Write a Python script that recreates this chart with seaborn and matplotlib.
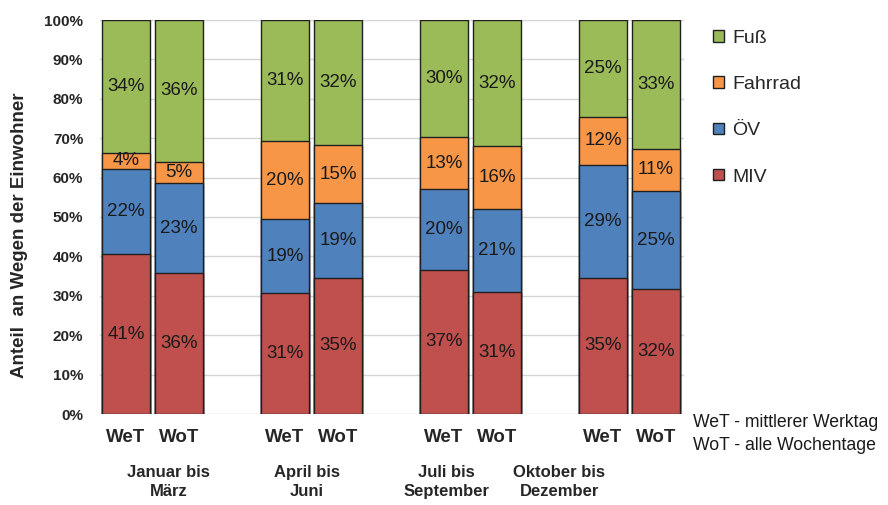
import matplotlib
matplotlib.use("Agg")
import matplotlib.pyplot as plt
from matplotlib.patches import Patch
from matplotlib.transforms import blended_transform_factory
import numpy as np
import pandas as pd
import seaborn as sns

# Quarters and day types (WeT = mittlerer Werktag, WoT = alle Wochentage)
periods = ["Januar bis\nMärz", "April bis\nJuni", "Juli bis\nSeptember", "Oktober bis\nDezember"]
day_types = ["WeT", "WoT"]

# Modal split in % per bar (WeT/WoT for each quarter), stacked bottom to top
modes = ["MIV", "ÖV", "Fahrrad", "Fuß"]
miv = [40.6, 35.7, 30.6, 34.6, 36.6, 31.0, 34.6, 31.6]
oev = [21.7, 23.0, 18.9, 18.9, 20.4, 21.0, 28.7, 25.0]
fahrrad = [3.9, 5.3, 19.7, 14.7, 13.3, 15.9, 12.1, 10.7]
fuss = [33.8, 36.0, 30.8, 31.8, 29.7, 32.1, 24.6, 32.7]

mode_colors = {"MIV": "#C0504D", "ÖV": "#4F81BD", "Fahrrad": "#F79646", "Fuß": "#9BBB59"}
y_ticks = [0, 10, 20, 30, 40, 50, 60, 70, 80, 90, 100]

sns.set_theme(style="white")
plt.rcParams["font.family"] = ["Liberation Sans", "DejaVu Sans"]

# bar slots: two bars per quarter, one empty slot between quarters
group_idx = np.repeat(np.arange(len(periods)), len(day_types))
day_idx = np.tile(np.arange(len(day_types)), len(periods))
pos = group_idx * (len(day_types) + 1) + day_idx

shares = np.array([miv, oev, fahrrad, fuss])
tops = np.cumsum(shares, axis=0)
bottoms = tops - shares

rows = []
for m_i, m in enumerate(modes):
    for b in range(len(pos)):
        rows.append({"mode": m, "pos": pos[b], "top": tops[m_i, b],
                     "bottom": bottoms[m_i, b], "share": shares[m_i, b]})
df = pd.DataFrame(rows)

fig = plt.figure(figsize=(8.88, 5.05), dpi=100)
ax = fig.add_axes([100 / 888, 91 / 505, 584 / 888, 394 / 505])

# draw cumulative bars from the top layer downwards so that they stack
for m in reversed(modes):
    sub = df[df["mode"] == m]
    sns.barplot(data=sub, x="pos", y="top", native_scale=True, width=0.9,
                color=mode_colors[m], saturation=1, edgecolor="#1f1f1f",
                linewidth=1.0, errorbar=None, ax=ax, zorder=2)

# value labels in the middle of each segment
for _, r in df.iterrows():
    ax.text(r["pos"], (r["bottom"] + r["top"]) / 2, f"{r['share']:.0f}%",
            ha="center", va="center", fontsize=13.5, color="#1a1a1a", zorder=3)

ax.set_xlim(-0.49, 10.53)
ax.set_ylim(0, 100)
ax.set_yticks(y_ticks)
ax.set_yticklabels([f"{t}%" for t in y_ticks], fontsize=11, fontweight="bold")
ax.set_xticks(pos)
ax.set_xticklabels([day_types[d] for d in day_idx], fontsize=13.5, fontweight="bold")
ax.tick_params(axis="y", length=0, pad=12)
ax.tick_params(axis="x", length=0, pad=11)
ax.set_xlabel("")
ax.set_ylabel("")
ax.yaxis.grid(True, color="#d4d4d4", linewidth=1.0)
ax.xaxis.grid(False)
ax.set_axisbelow(True)
for s in ax.spines.values():
    s.set_visible(False)

fig.text(20 / 888, 0.535, "Anteil  an Wegen der Einwohner", rotation=90,
         ha="center", va="center", fontsize=13.5, fontweight="bold")

# quarter labels below the day-type labels
group_x = [0.80, 3.41, 6.05, 8.18]
trans = blended_transform_factory(ax.transData, fig.transFigure)
for gx, lab in zip(group_x, periods):
    ax.text(gx, 0.046, lab, transform=trans, ha="center", va="center",
            multialignment="center", fontsize=12, fontweight="bold",
            linespacing=1.35)

# legend, top category first
handles = [Patch(facecolor=mode_colors[m], edgecolor="#1f1f1f", linewidth=1.0, label=m)
           for m in reversed(modes)]
fig.legend(handles=handles, loc="upper left", bbox_to_anchor=(713 / 888, 1 - 30 / 505),
           frameon=False, fontsize=14, handlelength=0.55, handleheight=0.55,
           handletextpad=0.45, labelspacing=1.5, borderpad=0, borderaxespad=0)

fig.text(693 / 888, 1 - 422.5 / 505, "WeT - mittlerer Werktag", ha="left", va="center",
         fontsize=12.7, color="#1a1a1a")
fig.text(693 / 888, 1 - 445 / 505, "WoT - alle Wochentage", ha="left", va="center",
         fontsize=12.7, color="#1a1a1a")

fig.savefig("out.png", dpi=100)
